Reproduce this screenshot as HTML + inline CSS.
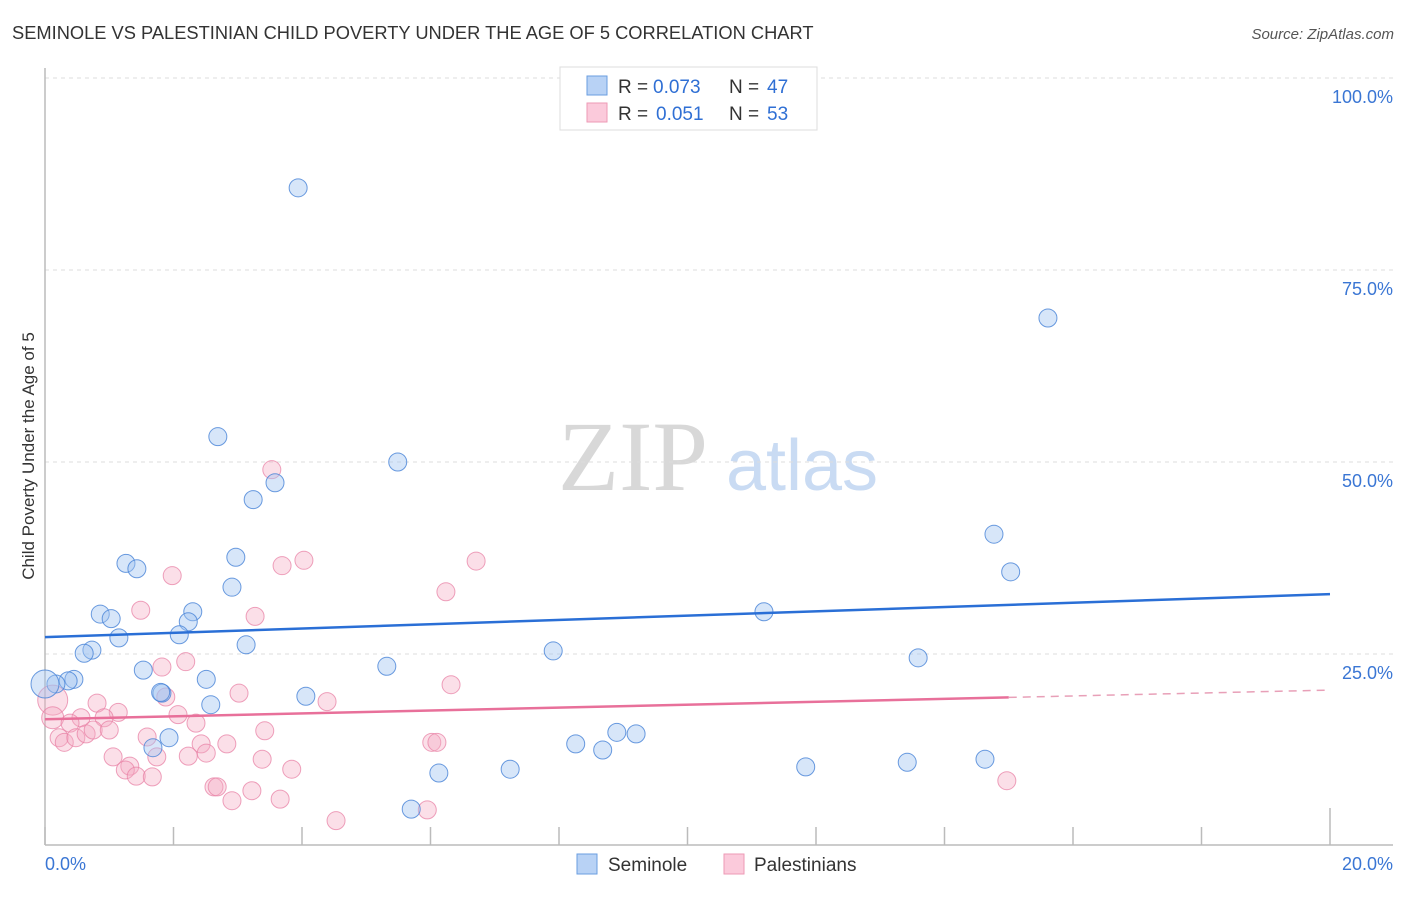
<!DOCTYPE html>
<html><head><meta charset="utf-8"><style>
body{margin:0;background:#fff;font-family:"Liberation Sans",sans-serif;}
</style></head><body>
<svg id="chart" width="1406" height="892" viewBox="0 0 1406 892" xmlns="http://www.w3.org/2000/svg" font-family="Liberation Sans, sans-serif">
<text x="12" y="39" font-size="18.3" fill="#333">SEMINOLE VS PALESTINIAN CHILD POVERTY UNDER THE AGE OF 5 CORRELATION CHART</text>
<text x="1394" y="39" font-size="15" fill="#555" text-anchor="end" font-style="italic">Source: ZipAtlas.com</text>
<g>
<text x="633" y="490" font-size="100" fill="#d8d8d8" text-anchor="middle" style="font-family:'Liberation Serif',serif">ZIP</text>
<text x="802" y="490" font-size="72" fill="#c9dbf3" text-anchor="middle">atlas</text>
</g>
<g id="grid"></g>
<g id="axes"></g>
<g id="marks"></g>
<text transform="translate(34,456) rotate(-90)" font-size="17" fill="#333" text-anchor="middle">Child Poverty Under the Age of 5</text>
<g>
<rect x="560" y="67" width="257" height="63" fill="#fff" stroke="#ddd"/>
<rect x="587" y="76" width="20" height="19" fill="#b8d2f5" stroke="#6a9ee0"/>
<rect x="587" y="103" width="20" height="19" fill="#fbcadb" stroke="#ee9ab6"/>
<text x="618" y="93" font-size="19" fill="#333">R =</text>
<text x="653" y="93" font-size="19" fill="#2f6fd4">0.073</text>
<text x="729" y="93" font-size="19" fill="#333">N =</text>
<text x="767" y="93" font-size="19" fill="#2f6fd4">47</text>
<text x="618" y="120" font-size="19" fill="#333">R =</text>
<text x="656" y="120" font-size="19" fill="#2f6fd4">0.051</text>
<text x="729" y="120" font-size="19" fill="#333">N =</text>
<text x="767" y="120" font-size="19" fill="#2f6fd4">53</text>
</g>
<g>
<rect x="577" y="854" width="20" height="20" fill="#b8d2f5" stroke="#6a9ee0"/>
<text x="608" y="871" font-size="19" fill="#333">Seminole</text>
<rect x="724" y="854" width="20" height="20" fill="#fbcadb" stroke="#ee9ab6"/>
<text x="754" y="871" font-size="19" fill="#333">Palestinians</text>
</g>
</svg>
<script>
const xTicks=[0,2,4,6,8,10,12,14,16,18,20];
const yTicks=[25,50,75,100];
const yTickLabels=["25.0%","50.0%","75.0%","100.0%"];
const xTickLabels=["0.0%","20.0%"];
const seminoleX=[3.94,15.61,2.69,5.49,3.58,3.24,14.77,2.97,1.26,1.43,15.03,2.91,0.86,2.30,1.03,2.23,11.19,1.15,2.09,3.13,0.73,0.61,7.91,13.59,5.32,1.53,0.45,0.36,0.17,0.0,2.51,1.82,4.06,2.58,8.90,9.20,1.93,8.26,8.68,1.68,7.24,6.13,11.84,13.42,14.63,5.70,1.80];
const seminoleY=[85.7,68.75,53.3,50.0,47.3,45.1,40.6,37.6,36.8,36.1,35.7,33.7,30.2,30.5,29.6,29.2,30.5,27.1,27.5,26.2,25.5,25.1,25.4,24.5,23.4,22.9,21.7,21.5,21.1,21.1,21.7,19.9,19.5,18.4,14.8,14.6,14.1,13.3,12.5,12.8,10.0,9.5,10.3,10.9,11.3,4.8,20.0];
const seminoleR=[9,9,9,9,9,9,9,9,9,9,9,9,9,9,9,9,9,9,9,9,9,9,9,9,9,9,9,9,9,14,9,9,9,9,9,9,9,9,9,9,9,9,9,9,9,9,9];
const palX=[1.98,3.69,4.03,1.49,3.27,1.82,2.19,3.02,4.39,1.88,0.81,1.14,0.12,2.07,2.35,0.92,0.56,0.12,0.39,0.22,0.30,0.48,0.64,0.75,1.00,1.59,2.43,2.51,2.83,3.42,1.06,1.32,1.25,1.42,1.67,1.74,2.23,3.38,3.84,2.63,2.68,2.91,3.22,3.66,4.53,3.53,6.71,6.24,6.32,6.02,6.10,5.95,14.97];
const palY=[35.2,36.5,37.2,30.7,29.9,23.3,24.0,19.9,18.8,19.4,18.6,17.4,19.0,17.1,16.0,16.7,16.7,16.7,16.0,14.1,13.5,14.1,14.6,15.1,15.1,14.2,13.3,12.1,13.3,15.0,11.6,10.4,9.9,9.1,9.0,11.6,11.7,11.3,10.0,7.7,7.7,5.9,7.2,6.1,3.3,49.0,37.1,33.1,21.0,13.5,13.5,4.7,8.5];
const palR=[9,9,9,9,9,9,9,9,9,9,9,9,15,9,9,9,9,11,9,9,9,9,9,9,9,9,9,9,9,9,9,9,9,9,9,9,9,9,9,9,9,9,9,9,9,9,9,9,9,9,9,9,9];
const seminoleTrend=[27.2,32.8];
const palTrend=[16.5,20.3];
const palSolidEnd=15;

const NS="http://www.w3.org/2000/svg";
const X0=45,X1=1330,Y0=846,YPER=7.68;
function sx(v){return X0+(v-0)/20*(X1-X0);}
function sy(v){return Y0-v*YPER;}
function mk(tag,attrs,parent){const e=document.createElementNS(NS,tag);for(const k in attrs)e.setAttribute(k,attrs[k]);parent.appendChild(e);return e;}
const grid=document.getElementById('grid'),axes=document.getElementById('axes'),marks=document.getElementById('marks');
yTicks.forEach((t,i)=>{
  const l=mk('line',{x1:X0,x2:1393,y1:sy(t),y2:sy(t),stroke:'#ddd','stroke-dasharray':'4,4'},grid);
  
  
  const tx=mk('text',{x:1393,y:sy(t)+25,'font-size':18,fill:'#3a76d4','text-anchor':'end'},axes);
  tx.textContent=yTickLabels[i];
  
  
});
const ax=mk('line',{x1:X0,x2:1393,y1:845,y2:845,stroke:'#bbb','stroke-width':1.5},axes);


const ay=mk('line',{x1:X0,x2:X0,y1:68,y2:845,stroke:'#bbb','stroke-width':1.5},axes);


xTicks.forEach((t,i)=>{
  const tl=mk('line',{x1:sx(t),x2:sx(t),y1:(i===xTicks.length-1?808:827),y2:845,stroke:'#bbb','stroke-width':1.5},axes);
  
  
});
const xl0=mk('text',{x:45,y:870,'font-size':18,fill:'#3a76d4'},axes);xl0.textContent=xTickLabels[0];


const xl1=mk('text',{x:1393,y:870,'font-size':18,fill:'#3a76d4','text-anchor':'end'},axes);xl1.textContent=xTickLabels[1];



palX.forEach((x,i)=>{
  const c=mk('circle',{cx:sx(x),cy:sy(palY[i]),r:palR[i],fill:'rgba(245,170,195,0.38)',stroke:'rgba(232,130,165,0.75)','stroke-width':1},marks);
  
  
});
seminoleX.forEach((x,i)=>{
  const c=mk('circle',{cx:sx(x),cy:sy(seminoleY[i]),r:seminoleR[i],fill:'rgba(160,195,240,0.42)',stroke:'rgba(70,130,215,0.8)','stroke-width':1},marks);
  
  
});
function ty(tr,x){return tr[0]+(tr[1]-tr[0])*x/20;}
const bl=mk('line',{x1:sx(0),y1:sy(ty(seminoleTrend,0)),x2:sx(20),y2:sy(ty(seminoleTrend,20)),stroke:'#2a6fd6','stroke-width':2.5},marks);


const pl=mk('line',{x1:sx(0),y1:sy(ty(palTrend,0)),x2:sx(palSolidEnd),y2:sy(ty(palTrend,palSolidEnd)),stroke:'#e8709a','stroke-width':2.5},marks);


const pd=mk('line',{x1:sx(palSolidEnd),y1:sy(ty(palTrend,palSolidEnd)),x2:sx(20),y2:sy(ty(palTrend,20)),stroke:'#e8a0b8','stroke-width':1.5,'stroke-dasharray':'8,6'},marks);


</script>
</body></html>
